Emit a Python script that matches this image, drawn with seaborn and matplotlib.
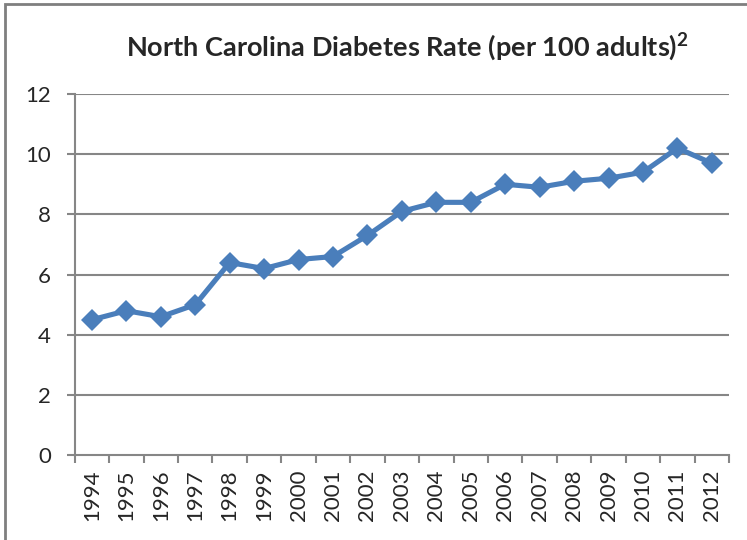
import numpy as np
import pandas as pd
import seaborn as sns
import matplotlib.pyplot as plt
from matplotlib.patches import Rectangle

years = [1994, 1995, 1996, 1997, 1998, 1999, 2000, 2001, 2002, 2003,
         2004, 2005, 2006, 2007, 2008, 2009, 2010, 2011, 2012]
rate = [4.5, 4.8, 4.6, 5.0, 6.4, 6.2, 6.5, 6.6, 7.3, 8.1,
        8.4, 8.4, 9.0, 8.9, 9.1, 9.2, 9.4, 10.2, 9.7]
y_ticks = [0, 2, 4, 6, 8, 10, 12]

sns.set_style("white")
plt.rcParams['font.family'] = ['Lato', 'DejaVu Sans']

df = pd.DataFrame({"year": years, "rate": rate})

fig = plt.figure(figsize=(7.47, 5.4), dpi=100)
ax = fig.add_axes([0.1, 0.157, 0.876, 0.669])

grid_c = "#868686"
for t in y_ticks[1:]:
    ax.axhline(t, color=grid_c, lw=1.5, zorder=1)

sns.lineplot(data=df, x="year", y="rate", ax=ax, color="#4A7EBB",
             lw=3.7, marker="D", markersize=11.5, markeredgewidth=0,
             zorder=3)

ax.set_xlim(years[0] - 0.5, years[-1] + 0.5)
ax.set_ylim(0, 12)
ax.set_yticks(y_ticks)
ax.set_xticks(years)
ax.set_xticklabels([str(y) for y in years], rotation=90)
ax.set_xticks(np.array(years[:] + [years[-1] + 1]) - 0.5, minor=True)
ax.tick_params(axis="x", which="major", length=0, pad=10, labelsize=16)
ax.tick_params(axis="x", which="minor", length=6, width=1.5, color=grid_c,
               direction="out", bottom=True)
ax.tick_params(axis="y", length=6, width=1.5, color=grid_c, left=True,
               direction="out", labelsize=16, pad=11)
ax.set_xlabel("")
ax.set_ylabel("")

for s in ["top", "right"]:
    ax.spines[s].set_visible(False)
for s in ["left", "bottom"]:
    ax.spines[s].set_color(grid_c)
    ax.spines[s].set_linewidth(1.5)

fig.text(0.545, 0.913, r"North Carolina Diabetes Rate (per 100 adults)$^{\mathregular{2}}$",
         ha="center", va="center", fontsize=19.5, fontweight="bold")

fig.patches.append(Rectangle((5 / 747, -0.1), 1.2, (540 - 4) / 540 + 0.1,
                             transform=fig.transFigure, fill=False,
                             edgecolor="#7f7f7f", lw=2))

fig.savefig("out.png", dpi=100)
